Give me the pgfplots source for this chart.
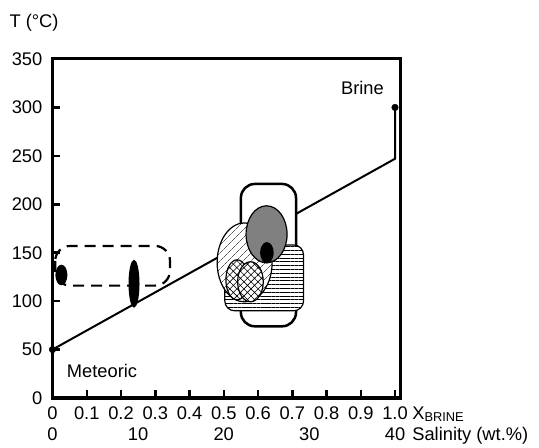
\documentclass[border=0pt]{standalone}
\usepackage{fontspec}
\setmainfont{Liberation Sans}
\usepackage{pgfplots}
\pgfplotsset{compat=1.18}
\usetikzlibrary{patterns.meta}
\definecolor{midgray}{RGB}{128,128,128}
\begin{document}
\begin{tikzpicture}[font=\fontsize{18.3bp}{22bp}\selectfont]
\begin{axis}[
  set layers,
  scale only axis, width=347.5bp, height=339bp,
  xmin=0, xmax=1.0146, ymin=0, ymax=350,
  axis line style={line width=3bp, black},
  xtick={0,0.1,0.2,0.3,0.4,0.5,0.6,0.7,0.8,0.9,1.0},
  xticklabels={0,0.1,0.2,0.3,0.4,0.5,0.6,0.7,0.8,0.9,1.0},
  ytick={0,50,100,150,200,250,300,350},
  yticklabels={0,50,100,150,200,250,300,350},
  tick pos=left,
  tick align=inside,
  major tick length=8bp,
  every tick/.style={line width=2.5bp, black},
  xticklabel style={anchor=base, yshift=-21bp, inner sep=0pt},
  yticklabel style={anchor=east, xshift=-10bp, inner sep=0pt},
  /pgf/number format/assume math mode=true,
  clip=false,
]
\addplot[line width=2bp, black, on layer=axis background] coordinates {(0,50) (1.0,247) (1.0,300)};
\addplot[only marks, mark=*, mark size=3.3bp, black] coordinates {(0,50) (1.0,300)};

% dashed zone
\draw[black, line width=2.2bp, dash pattern=on 11bp off 7bp, rounded corners=15bp]
  (axis cs:0.008,157) rectangle (axis cs:0.343,116);
\fill[black] (axis cs:0.026,127) ellipse [x radius=6bp, y radius=10.3bp];
\fill[black] (axis cs:0.238,118) ellipse [x radius=5.5bp, y radius=24bp];

% cluster
\draw[line width=2.5bp, fill=white, rounded corners=14bp]
  (axis cs:0.550,221) rectangle (axis cs:0.711,74);
\draw[line width=1.2bp, preaction={fill=white}, pattern={Lines[angle=0,distance=3.8bp,line width=0.6bp]}, rounded corners=10bp]
  (axis cs:0.503,158) rectangle (axis cs:0.733,90);
\draw[line width=1.2bp, preaction={fill=white}, pattern={Lines[angle=45,distance=6bp,line width=0.6bp]}]
  (axis cs:0.561,140) ellipse [x radius=27.5bp, y radius=39.5bp];
\draw[line width=1.2bp, preaction={fill=white}, pattern={Hatch[angle=45,distance=5bp,line width=0.6bp]}]
  (axis cs:0.539,122) ellipse [x radius=11.2bp, y radius=20bp];
\draw[line width=1.2bp, preaction={fill=white}, pattern={Hatch[angle=45,distance=5bp,line width=0.6bp]}]
  (axis cs:0.578,120) ellipse [x radius=12.8bp, y radius=20bp];
\draw[line width=1.2bp, fill=midgray]
  (axis cs:0.625,169) ellipse [x radius=20.5bp, y radius=28.5bp];
\fill[black] (axis cs:0.626,150) ellipse [x radius=6.8bp, y radius=10.6bp];

% labels
\node[anchor=base, inner sep=0pt] at (axis cs:0.905,313) {Brine};
\node[anchor=base, inner sep=0pt] at (axis cs:0.1445,21.5) {Meteoric};
\node[anchor=base west, inner sep=0pt] at (axis cs:-0.126,382.8) {T (°C)};
\node[anchor=base west, inner sep=0pt, yshift=-21bp] at (axis cs:1.05,0) {X\textsubscript{BRINE}};
\node[anchor=base west, inner sep=0pt, yshift=-42bp] at (axis cs:1.05,0) {Salinity (wt.\%)};
\node[anchor=base, inner sep=0pt, yshift=-42bp] at (axis cs:0,0) {0};
\node[anchor=base, inner sep=0pt, yshift=-42bp] at (axis cs:0.25,0) {10};
\node[anchor=base, inner sep=0pt, yshift=-42bp] at (axis cs:0.5,0) {20};
\node[anchor=base, inner sep=0pt, yshift=-42bp] at (axis cs:0.75,0) {30};
\node[anchor=base, inner sep=0pt, yshift=-42bp] at (axis cs:1.0,0) {40};
\end{axis}
\pgfresetboundingbox
\path (current axis.south west) ++(-52.5bp,-50bp) rectangle ++(539bp,448bp);
\end{tikzpicture}
\end{document}
